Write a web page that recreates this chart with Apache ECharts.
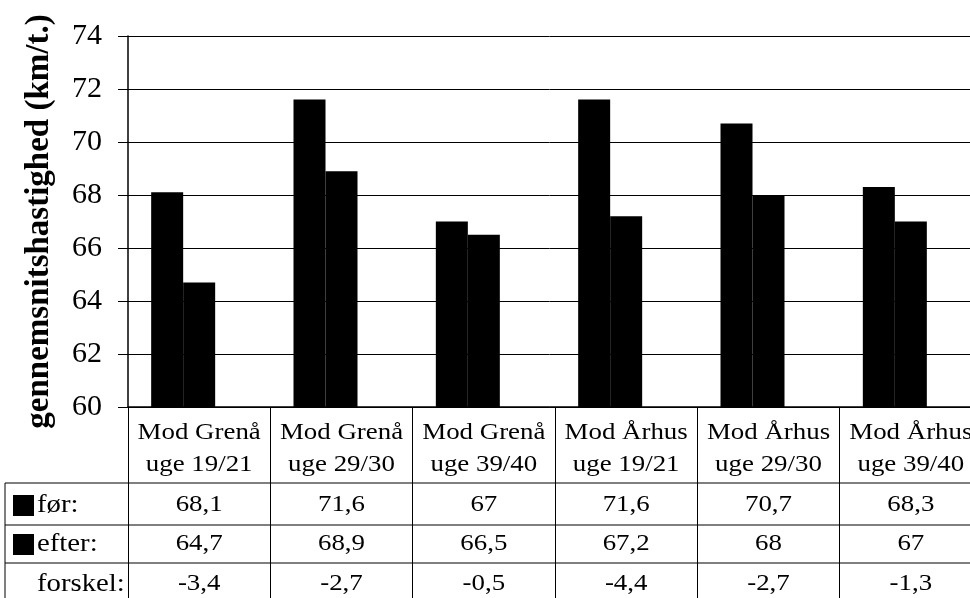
<!DOCTYPE html>
<html>
<head>
<meta charset="utf-8">
<script src="https://cdn.jsdelivr.net/npm/echarts@6/dist/echarts.min.js"></script>
<style>
  html, body { margin: 0; padding: 0; background: #fff; }
  #chart { width: 970px; height: 598px; }
</style>
</head>
<body>
<div id="chart"></div>
<script>
// Average speed before / after, per direction and measuring period
const directions = ['Mod Grenå', 'Mod Grenå', 'Mod Grenå', 'Mod Århus', 'Mod Århus', 'Mod Århus'];
const weeks = ['uge 19/21', 'uge 29/30', 'uge 39/40', 'uge 19/21', 'uge 29/30', 'uge 39/40'];
const forValues = [68.1, 71.6, 67, 71.6, 70.7, 68.3];
const efterValues = [64.7, 68.9, 66.5, 67.2, 68, 67];
const forskelValues = [-3.4, -2.7, -0.5, -4.4, -2.7, -1.3];
const rowLabels = ['før:', 'efter:', 'forskel:'];
const yTicks = { min: 60, max: 74, step: 2 };
const yTitle = 'gennemsnitshastighed (km/t.)';

const SERIF = '"Liberation Serif", "Times New Roman", serif';
const categories = directions.map((d, i) => d + '\n' + weeks[i]);
const fmt = v => String(v).replace('.', ',');

const chart = echarts.init(document.getElementById('chart'), null, { renderer: 'canvas' });

const barSeries = (name, data) => ({
  name,
  type: 'bar',
  data,
  barWidth: 32,
  barGap: '0%',
  clip: true,
  itemStyle: { color: '#000' },
  emphasis: { disabled: true },
  animation: false
});

chart.setOption({
  animation: false,
  grid: { left: 128, right: -12, top: 36, bottom: 191, containLabel: false, outerBoundsMode: 'none' },
  xAxis: {
    type: 'category',
    data: categories,
    boundaryGap: true,
    axisLine: { show: true, lineStyle: { color: '#000', width: 1.5 } },
    axisTick: { show: true, length: 200, lineStyle: { color: '#000', width: 1 } },
    axisLabel: { show: false },
    splitLine: { show: false }
  },
  yAxis: {
    type: 'value',
    min: yTicks.min,
    max: yTicks.max,
    interval: yTicks.step,
    name: yTitle,
    nameLocation: 'middle',
    nameRotate: 90,
    nameGap: 72,
    nameTextStyle: { fontFamily: SERIF, fontSize: 33, fontWeight: 'bold', color: '#000' },
    axisLine: { show: true, lineStyle: { color: '#000', width: 1.5 } },
    axisTick: { show: true, length: 10, lineStyle: { color: '#000', width: 1 } },
    axisLabel: { fontFamily: SERIF, fontSize: 30, color: '#000', margin: 26 },
    splitLine: { show: true, lineStyle: { color: '#000', width: 1 } }
  },
  series: [
    barSeries('før', forValues),
    barSeries('efter', efterValues),
    barSeries('forskel', forskelValues)
  ]
});

// Data table under the plot, aligned to the category axis
const colX = categories.map((c, i) => chart.convertToPixel({ xAxisIndex: 0 }, i));
const headY = [433, 465];
const rowY = [505, 544, 584];
const rowLines = [483, 525, 563];

const txt = (text, x, y, align, size, sx) => ({
  type: 'text',
  x, y,
  scaleX: sx || 1.12,
  silent: true,
  style: {
    text,
    fontFamily: SERIF,
    fontSize: size || 24,
    fill: '#000',
    align: align || 'center',
    textAlign: align || 'center',
    verticalAlign: 'middle',
    textVerticalAlign: 'middle'
  }
});

const g = [];
rowLines.forEach(y => g.push({
  type: 'line', silent: true,
  shape: { x1: 5, y1: y, x2: 975, y2: y },
  style: { stroke: '#000', lineWidth: 1 }
}));
g.push({ type: 'line', silent: true, shape: { x1: 5, y1: 483, x2: 5, y2: 598 }, style: { stroke: '#000', lineWidth: 1 } });

colX.forEach((x, i) => {
  g.push(txt(directions[i], x, headY[0]));
  g.push(txt(weeks[i], x, headY[1]));
  g.push(txt(fmt(forValues[i]), x, rowY[0]));
  g.push(txt(fmt(efterValues[i]), x, rowY[1]));
  g.push(txt(fmt(forskelValues[i]), x, rowY[2]));
});

// Row headers with legend keys for the two drawn series
g.push({ type: 'rect', silent: true, shape: { x: 13, y: rowY[0] - 10, width: 21, height: 21 }, style: { fill: '#000' } });
g.push({ type: 'rect', silent: true, shape: { x: 13, y: rowY[1] - 10, width: 21, height: 21 }, style: { fill: '#000' } });
rowLabels.forEach((label, r) => g.push(txt(label, 37, rowY[r], 'left', 25, 1.15)));

chart.setOption({ graphic: g });
</script>
</body>
</html>
